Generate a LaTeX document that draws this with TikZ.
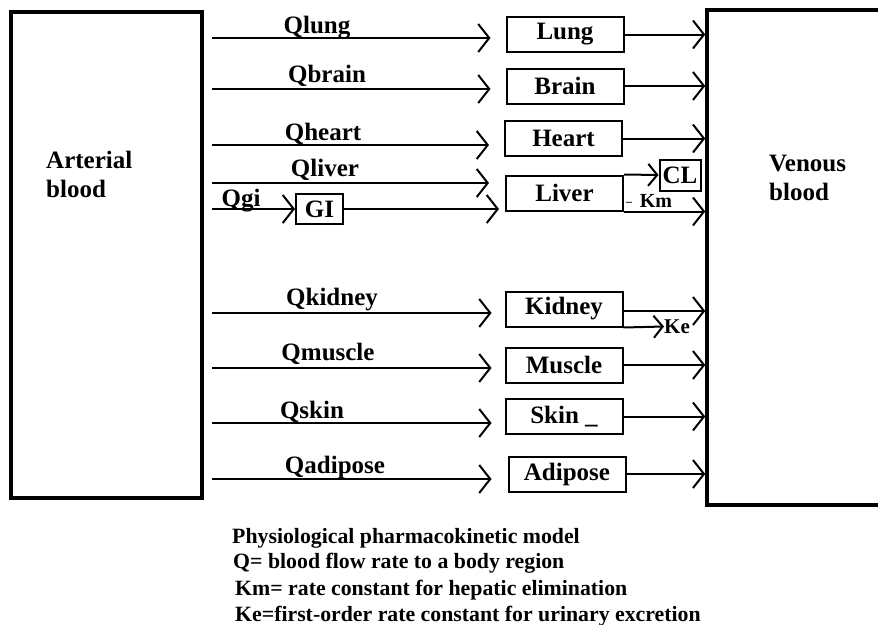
\documentclass[tikz,border=0pt]{standalone}
\usepackage{fontspec}
\setmainfont{Liberation Serif}
\usetikzlibrary{arrows.meta}
\begin{document}
\begin{tikzpicture}[x=1pt,y=-1pt,
  bigbox/.style={draw, line width=3.5pt, inner sep=0pt},
  organ/.style={draw, line width=2pt, minimum width=117pt, minimum height=35pt, inner sep=0pt, font=\fontsize{25}{28}\selectfont\bfseries},
  lab/.style={inner sep=0pt, font=\fontsize{25}{29}\selectfont\bfseries},
  qlab/.style={anchor=base, inner sep=0pt, font=\fontsize{25}{28}\selectfont\bfseries},
  flow/.style={line width=2pt, -{Straight Barb[length=11pt,width=28pt,line width=2pt]}},
  sflow/.style={line width=2pt, -{Straight Barb[length=9pt,width=22pt,line width=2pt]}},
  smalltxt/.style={inner sep=0pt, font=\fontsize{20}{22}\selectfont\bfseries},
  captext/.style={anchor=base west, inner sep=0pt, font=\fontsize{21.8}{26}\selectfont\bfseries}]
\useasboundingbox (0,0) rectangle (878,624);
\fill[white] (0,0) rectangle (878,624);

% compartments
\node[bigbox, minimum width=191pt, minimum height=486pt] (art) at (106.5,255) {};
\node[bigbox, minimum width=220pt, minimum height=495pt] (ven) at (817,257.5) {};
\node[lab, anchor=west, align=left] (artlab) at (46,174) {Arterial\\blood};
\node[lab, anchor=west, align=left] (venlab) at (769,178) {Venous\\blood};

% organs
\node[organ] (lung)    at (565,34.5) {Lung};
\node[organ] (brain)   at (565,86)   {Brain};
\node[organ] (heart)   at (563.5,138.5) {Heart};
\node[organ] (liver)   at (564.5,193) {Liver};
\node[organ] (kidney)  at (564,309)  {Kidney};
\node[organ] (muscle)  at (564,365)  {Muscle};
\node[organ] (skin)    at (564,416.5) {Skin \_};
\node[organ] (adipose) at (567,474)  {Adipose};
\node[organ, minimum width=47pt, minimum height=30pt] (gi) at (319.5,209) {GI};
\node[organ, minimum width=41pt, minimum height=31pt] (cl) at (680,175) {CL};

% start points on the arterial side
\coordinate (s1) at (212,38);
\coordinate (s2) at (212,89);
\coordinate (s3) at (212,145);
\coordinate (s4) at (212,183);
\coordinate (s5) at (212,209);
\coordinate (s6) at (212,313);
\coordinate (s7) at (212,368);
\coordinate (s8) at (212,423);
\coordinate (s9) at (212,479);

% inflows
\draw[flow] (s1) -- ([xshift=-15pt]s1 -| lung.west);
\draw[flow] (s2) -- ([xshift=-15pt]s2 -| brain.west);
\draw[flow] (s3) -- ([xshift=-15pt]s3 -| heart.west);
\draw[flow] (s4) -- ([xshift=-16pt]s4 -| liver.west);
\draw[flow] (s5) -- (gi.west);
\draw[flow] (gi.east) -- ([xshift=-6pt]gi.east -| liver.west);
\draw[flow] (s6) -- ([xshift=-13pt]s6 -| kidney.west);
\draw[flow] (s7) -- ([xshift=-13pt]s7 -| muscle.west);
\draw[flow] (s8) -- ([xshift=-13pt]s8 -| skin.west);
\draw[flow] (s9) -- ([xshift=-16pt]s9 -| adipose.west);

% flow labels
\node[qlab] (qlung)    at (317,33)  {Qlung};
\node[qlab] (qbrain)   at (327,82)  {Qbrain};
\node[qlab] (qheart)   at (323,140) {Qheart};
\node[qlab] (qliver)   at (325,176) {Qliver};
\node[qlab] (qgi)      at (241,206) {Qgi};
\node[qlab] (qkidney)  at (332,305) {Qkidney};
\node[qlab] (qmuscle)  at (328,360) {Qmuscle};
\node[qlab] (qskin)    at (312,418) {Qskin};
\node[qlab] (qadipose) at (335,473) {Qadipose};

% outflows
\draw[flow] (lung.east) -- (lung.east -| ven.west);
\draw[flow] (brain.east) -- (brain.east -| ven.west);
\draw[flow] (heart.east) -- (heart.east -| ven.west);
\draw[sflow] (liver.north east) -- (cl.west);
\draw[flow] (liver.south east) -- (liver.south east -| ven.west);
\draw[flow] ([yshift=-2pt]kidney.east) -- ([yshift=-2pt]kidney.east -| ven.west);
\node[smalltxt, anchor=west, font=\fontsize{21}{22}\selectfont\bfseries] (ke) at (664,326.5) {Ke};
\draw[sflow] (kidney.south east) -- (ke.west);
\draw[flow] (muscle.east) -- (muscle.east -| ven.west);
\draw[flow] (skin.east) -- (skin.east -| ven.west);
\draw[flow] (adipose.east) -- (adipose.east -| ven.west);
\node[smalltxt] (km) at (656,201) {Km};
\node[smalltxt, font=\fontsize{12}{14}\selectfont\bfseries] (kmbar) at (629,202) {\_};

% caption
\node[captext] (c1) at (232,543) {Physiological pharmacokinetic model};
\node[captext] (c2) at (233,568) {Q= blood flow rate to a body region};
\node[captext] (c3) at (235,595) {Km= rate constant for hepatic elimination};
\node[captext] (c4) at (235,621) {Ke=first-order rate constant for urinary excretion};
\end{tikzpicture}
\end{document}
